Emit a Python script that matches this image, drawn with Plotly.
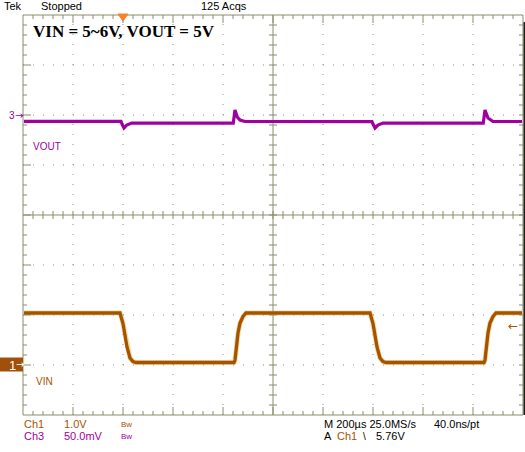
import plotly.graph_objects as go

# ---- data (time in microseconds, 200 us/div, trigger at t = 0) ----
vin_t_us = [-396, -12, 0, 16, 28, 40, 52, 444, 448, 460, 468, 480, 492,
            988, 1000, 1016, 1028, 1040, 1052, 1444, 1448, 1460, 1468, 1480, 1492, 1596]
vin_v = [6.02, 6.02, 5.81, 5.34, 5.12, 5.05, 5.03, 5.03, 5.08, 5.62, 5.82, 5.95, 6.02,
         6.02, 5.81, 5.34, 5.12, 5.05, 5.03, 5.03, 5.08, 5.62, 5.82, 5.95, 6.02, 6.02]

vout_t_us = [-396, -8, -4, 4, 15, 35, 441, 444, 448, 457, 468, 488,
             996, 1000, 1008, 1020, 1040, 1441, 1444, 1448, 1460, 1480, 1596]
vout_ac_mv = [-6.3, -6.3, -9, -13, -10, -8, -8.2, -3, 5, -2, -5, -6.5,
              -6.6, -9, -13, -10, -8, -8.2, -3, 5, -3, -6.5, -6.5]

top_labels = ["Tek", "Stopped", "125 Acqs"]
title_text = "VIN = 5~6V, VOUT = 5V"
ch1_info = ["Ch1", "1.0V", "Bw"]
ch3_info = ["Ch3", "50.0mV", "Bw"]
horiz_info = ["M 200µs 25.0MS/s", "40.0ns/pt"]
trig_info = ["A", "Ch1", "\\", "5.76V"]

# ---- style ----
W, H = 525, 452
L, R, T, B = 23, 2, 15, 37
PW, PH = W - L - R, H - T - B
BROWN = "#A65300"
PURPLE = "#A000A0"
FRAME = "#8C8C6C"
DOT = "#909090"
FONT = "Liberation Sans"
ARROWFONT = "DejaVu Sans"


def px(x):
    return (x - L) / PW


def py(y):
    return (H - B - y) / PH


fig = go.Figure()
fig.add_trace(go.Scatter(x=vin_t_us, y=vin_v, mode="lines",
                         line=dict(color="#E8B848", width=5), hoverinfo="skip",
                         showlegend=False, opacity=0.5))
fig.add_trace(go.Scatter(x=vin_t_us, y=vin_v, mode="lines",
                         line=dict(color=BROWN, width=3.3), showlegend=False))
fig.add_trace(go.Scatter(x=vout_t_us, y=vout_ac_mv, mode="lines", yaxis="y2",
                         line=dict(color=PURPLE, width=3.2), showlegend=False))

shapes = []
# dotted grid
for k in range(1, 10):
    if k != 5:
        shapes.append(dict(type="line", xref="paper", yref="paper", x0=k / 10, x1=k / 10,
                           y0=0, y1=1, line=dict(color=DOT, width=1, dash="1px,9px"), layer="below"))
for k in range(1, 8):
    if k != 4:
        shapes.append(dict(type="line", xref="paper", yref="paper", y0=k / 8, y1=k / 8,
                           x0=0, x1=1, line=dict(color=DOT, width=1, dash="1px,9px"), layer="below"))
# frame and centre cross
for (x0, y0, x1, y1) in [(0, 0, 0, 1), (1, 0, 1, 1), (0, 0, 1, 0), (0, 1, 1, 1),
                         (0.5, 0, 0.5, 1), (0, 0.5, 1, 0.5)]:
    shapes.append(dict(type="line", xref="paper", yref="paper", x0=x0, y0=y0, x1=x1, y1=y1,
                       line=dict(color=FRAME, width=1), layer="below"))
# ticks as one path (paper coords)
p = []
dx, dy = 1 / PW, 1 / PH
for i in range(1, 50):
    xx = i / 50
    major = (i % 5 == 0)
    ln = 8 if major else 4
    p.append(f"M{xx},0 L{xx},{ln * dy}")
    p.append(f"M{xx},1 L{xx},{1 - ln * dy}")
    p.append(f"M{xx},{0.5 - 4 * dy} L{xx},{0.5 + 4 * dy}")
for i in range(1, 40):
    yy = i / 40
    major = (i % 5 == 0)
    ln = 8 if major else 4
    p.append(f"M0,{yy} L{ln * dx},{yy}")
    p.append(f"M1,{yy} L{1 - 4 * dx},{yy}")
    p.append(f"M{0.5 - 4 * dx},{yy} L{0.5 + 4 * dx},{yy}")
shapes.append(dict(type="path", xref="paper", yref="paper", path=" ".join(p),
                   line=dict(color=FRAME, width=1), layer="below"))
# right dark edge
shapes.append(dict(type="line", xref="paper", yref="paper", x0=px(524.5), x1=px(524.5),
                   y0=py(415), y1=py(22), line=dict(color="#202020", width=2)))
# trigger position marker (top)
shapes.append(dict(type="path", xref="paper", yref="paper",
                   path=f"M{px(118)},{py(14)} L{px(128)},{py(14)} L{px(123)},{py(21)} Z",
                   fillcolor="#FF7F27", line=dict(color="#FF7F27", width=1)))
# channel 1 marker box
shapes.append(dict(type="rect", xref="paper", yref="paper", x0=px(0), x1=px(23),
                   y0=py(371.5), y1=py(357.5), fillcolor="#A0500A", line=dict(width=0)))

ann = []


def text(s, x, y, color="black", size=11, family=FONT, anchor="left"):
    ann.append(dict(text=s, x=px(x), y=py(y), xref="paper", yref="paper", xanchor=anchor,
                    yanchor="middle", showarrow=False, font=dict(color=color, size=size, family=family)))


text(top_labels[0], 2, 6)
text(top_labels[1], 39, 6)
text(top_labels[2], 199, 6)
text("<b>" + title_text + "</b>", 31, 31, size=17, family="Liberation Serif")
text("3", 7, 116, color=PURPLE, size=10)
text("→", 13, 115, color=PURPLE, size=10, family=ARROWFONT)
text("1", 7, 365, color="white", size=13)
text("→", 14, 364, color="white", size=10, family=ARROWFONT)
text("←", 506, 326, color=BROWN, size=12, family=ARROWFONT)
text("VOUT", 31, 147, color=PURPLE, size=10)
text("VIN", 34, 381, color=BROWN, size=10)

text(ch1_info[0], 22, 424, color=BROWN)
text(ch1_info[1], 62, 424, color=BROWN)
text(ch1_info[2], 119, 424, color=BROWN, size=8)
text(ch3_info[0], 22, 436, color=PURPLE)
text(ch3_info[1], 62, 436, color=PURPLE)
text(ch3_info[2], 119, 436, color=PURPLE, size=8)
text(horiz_info[0], 322, 424)
text(horiz_info[1], 432, 424)
text(trig_info[0], 322, 436)
text(trig_info[1], 335, 436, color=BROWN)
text(trig_info[2], 361, 436, size=10)
text(trig_info[3], 374, 436)

fig.update_layout(
    width=W, height=H, margin=dict(l=L, r=R, t=T, b=B),
    paper_bgcolor="white", plot_bgcolor="white",
    xaxis=dict(range=[-400, 1600], visible=False, fixedrange=True),
    yaxis=dict(range=[3.98, 11.98], visible=False),
    yaxis2=dict(range=[-300, 100], visible=False, overlaying="y"),
    shapes=shapes, annotations=ann, showlegend=False,
)
fig.write_html("out.html", config={"displayModeBar": False},
               post_script="document.body.style.margin='0';document.body.style.overflow='hidden';")
